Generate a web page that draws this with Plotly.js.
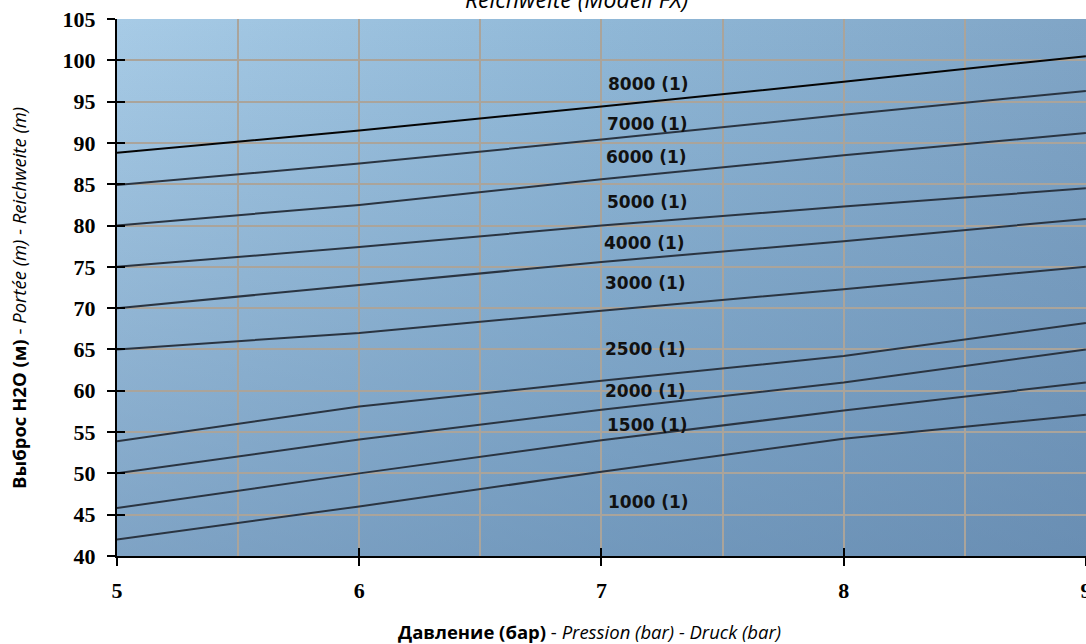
<!DOCTYPE html>
<html>
<head>
<meta charset="utf-8">
<script src="https://cdn.plot.ly/plotly-3.0.1.min.js"></script>
<style>
  html, body { margin: 0; padding: 0; background: #ffffff; }
  #chart { width: 1086px; height: 644px; }
</style>
</head>
<body>
<div id="chart"></div>
<script>
// ---- data ----
const pressure = [5, 6, 7, 8, 9];
const seriesNames = ["8000 (1)", "7000 (1)", "6000 (1)", "5000 (1)", "4000 (1)", "3000 (1)", "2500 (1)", "2000 (1)", "1500 (1)", "1000 (1)"];
const range8000 = [88.8, 91.5, 94.4, 97.4, 100.5];
const range7000 = [84.9, 87.5, 90.4, 93.4, 96.3];
const range6000 = [80.0, 82.5, 85.6, 88.5, 91.2];
const range5000 = [75.0, 77.4, 80.0, 82.3, 84.5];
const range4000 = [70.0, 72.8, 75.6, 78.1, 80.8];
const range3000 = [65.0, 67.0, 69.7, 72.3, 75.0];
const range2500 = [53.9, 58.1, 61.2, 64.2, 68.2];
const range2000 = [50.0, 54.1, 57.7, 61.0, 65.0];
const range1500 = [45.8, 50.0, 54.0, 57.6, 61.0];
const range1000 = [42.0, 46.0, 50.2, 54.2, 57.1];
const xTickVals = [5, 6, 7, 8, 9];
const xTickText = ["5", "6", "7", "8", "9"];
const yTickVals = [40, 45, 50, 55, 60, 65, 70, 75, 80, 85, 90, 95, 100, 105];

const allSeries = [range8000, range7000, range6000, range5000, range4000, range3000, range2500, range2000, range1500, range1000];

// label anchor positions (data coords, left edge / vertical middle)
const labelX = [7.02, 7.016, 7.012, 7.016, 7.004, 7.008, 7.008, 7.008, 7.016, 7.02];
const labelY = [97.13, 92.35, 88.24, 82.85, 77.9, 73.1, 65.1, 60.0, 55.9, 46.5];

const traces = allSeries.map((vals, i) => ({
  type: 'scatter',
  mode: 'lines',
  x: pressure,
  y: vals,
  name: seriesNames[i],
  line: { color: i === 0 ? '#050505' : '#2a3441', width: 2 },
  hoverinfo: 'name+x+y',
  showlegend: false
}));

// empty helper trace so the overlay axes (inside tick halves) get drawn
traces.push({ type: 'scatter', mode: 'lines', x: [], y: [], xaxis: 'x2', yaxis: 'y2', showlegend: false, hoverinfo: 'skip' });

const annotations = seriesNames.map((n, i) => ({
  text: n,
  xref: 'x', yref: 'y',
  x: labelX[i], y: labelY[i],
  xanchor: 'left', yanchor: 'middle',
  showarrow: false,
  font: { family: 'DejaVu Sans', size: 17, color: '#111111', weight: 'bold' }
}));

annotations.push({
  text: '<b>Давление (бар)</b> - <i>Pression (bar) - Druck (bar)</i>',
  xref: 'paper', yref: 'paper',
  x: 0.488, y: -0.1415,
  xanchor: 'center', yanchor: 'middle',
  showarrow: false,
  font: { family: 'Open Sans', size: 18.5, color: '#000000' }
});
annotations.push({
  text: '<b>Выброс H2O (м)</b> - <i>Portée (m) - Reichweite (m)</i>',
  xref: 'paper', yref: 'paper',
  x: -0.1022, y: 0.4804,
  xanchor: 'center', yanchor: 'middle',
  textangle: -90,
  showarrow: false,
  font: { family: 'Open Sans', size: 18.5, color: '#000000' }
});

// background gradient (style only)
const gradSvg =
  '<svg xmlns="http://www.w3.org/2000/svg" width="1000" height="560" preserveAspectRatio="none">' +
  '<defs>' +
  '<linearGradient id="h" x1="0" y1="0" x2="1" y2="0">' +
  '<stop offset="0" stop-color="#a7cbe6"/><stop offset="0.5" stop-color="#90b8d7"/><stop offset="1" stop-color="#80a5c6"/>' +
  '</linearGradient>' +
  '<linearGradient id="v" x1="0" y1="0" x2="0" y2="1">' +
  '<stop offset="0" stop-color="#4d729c" stop-opacity="0"/><stop offset="1" stop-color="#4d729c" stop-opacity="0.45"/>' +
  '</linearGradient>' +
  '</defs>' +
  '<rect width="1000" height="560" fill="url(#h)"/>' +
  '<rect width="1000" height="560" fill="url(#v)"/>' +
  '</svg>';
const gradUri = 'data:image/svg+xml;charset=utf-8,' + encodeURIComponent(gradSvg);

const gridColor = '#aaa49b';
const tickFont = { family: 'Liberation Serif', size: 22, color: '#000000', weight: 'bold' };

const layout = {
  width: 1086,
  height: 644,
  margin: { l: 117, r: 0, t: 19, b: 88 },
  paper_bgcolor: '#ffffff',
  plot_bgcolor: '#88b0d0',
  title: {
    text: '<i>Reichweite (Modell FX)</i>',
    font: { family: 'Open Sans', size: 23, color: '#000000' },
    xref: 'container', x: 0.531, xanchor: 'center',
    yref: 'container', y: 1, yanchor: 'middle'
  },
  xaxis: {
    range: [5, 9.0005],
    tickvals: xTickVals,
    ticktext: xTickText,
    ticks: 'outside', ticklen: 8, tickwidth: 2, tickcolor: '#000000',
    tickfont: tickFont,
    ticklabelstandoff: 6,
    ticklabeloverflow: 'allow',
    showline: true, linecolor: '#000000', linewidth: 2,
    showgrid: true, gridcolor: gridColor, gridwidth: 2,
    minor: { dtick: 0.5, showgrid: true, gridcolor: gridColor, gridwidth: 2, ticks: '' },
    zeroline: false, fixedrange: true
  },
  yaxis: {
    range: [40, 105],
    tickvals: yTickVals,
    ticks: 'outside', ticklen: 8, tickwidth: 2, tickcolor: '#000000',
    tickfont: tickFont,
    ticklabelstandoff: 7,
    showline: true, linecolor: '#000000', linewidth: 2,
    showgrid: true, gridcolor: gridColor, gridwidth: 2,
    zeroline: false, fixedrange: true
  },
  xaxis2: {
    overlaying: 'x', matches: 'x', anchor: 'y2', side: 'bottom',
    tickvals: xTickVals, ticks: 'inside', ticklen: 8, tickwidth: 2, tickcolor: '#000000',
    showticklabels: false, showgrid: false, showline: false, zeroline: false
  },
  yaxis2: {
    overlaying: 'y', matches: 'y', anchor: 'x2', side: 'left',
    tickvals: yTickVals, ticks: 'inside', ticklen: 8, tickwidth: 2, tickcolor: '#000000',
    showticklabels: false, showgrid: false, showline: false, zeroline: false
  },
  images: [{
    source: gradUri,
    xref: 'paper', yref: 'paper',
    x: 0, y: 1, sizex: 1, sizey: 1,
    xanchor: 'left', yanchor: 'top',
    sizing: 'stretch', layer: 'below'
  }],
  annotations: annotations,
  showlegend: false
};

Plotly.newPlot('chart', traces, layout, { displayModeBar: false, staticPlot: true });
</script>
</body>
</html>
